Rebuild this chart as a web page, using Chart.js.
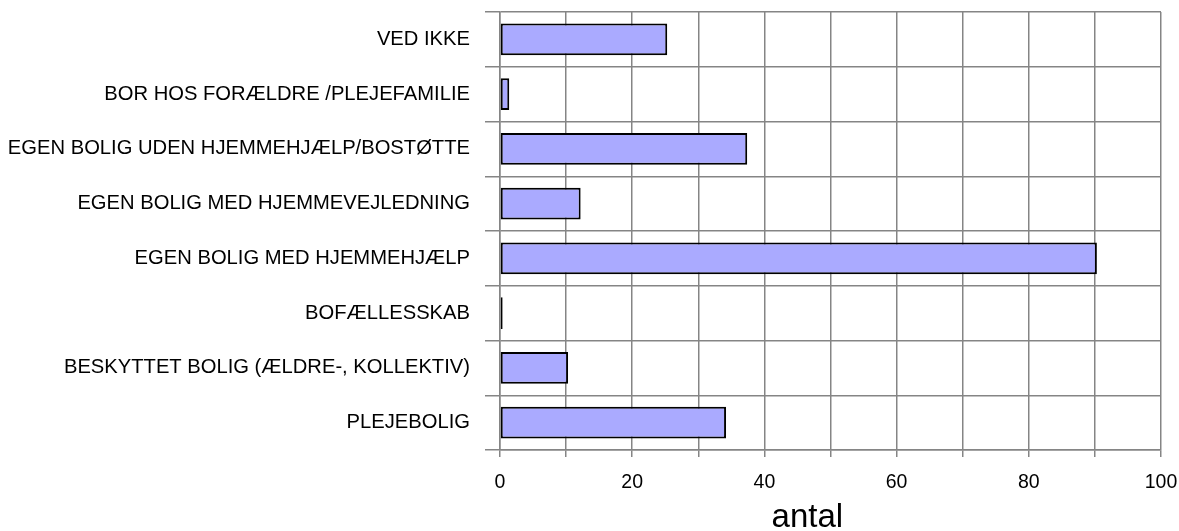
<!DOCTYPE html>
<html>
<head>
<meta charset="utf-8">
<script src="https://cdn.jsdelivr.net/npm/chart.js@4"></script>
<style>
html,body{margin:0;padding:0;background:#fff;}
#wrap{width:1179px;height:531px;}
</style>
</head>
<body>
<div id="wrap"><canvas id="c" width="1179" height="531"></canvas></div>
<script>
const categories = [
  'VED IKKE',
  'BOR HOS FORÆLDRE /PLEJEFAMILIE',
  'EGEN BOLIG UDEN HJEMMEHJÆLP/BOSTØTTE',
  'EGEN BOLIG MED HJEMMEVEJLEDNING',
  'EGEN BOLIG MED HJEMMEHJÆLP',
  'BOFÆLLESSKAB',
  'BESKYTTET BOLIG (ÆLDRE-, KOLLEKTIV)',
  'PLEJEBOLIG'
];
const antalValues = [25.3, 1.4, 37.4, 12.2, 90.3, 0.4, 10.3, 34.2];
const xTickLabels = ['0', '20', '40', '60', '80', '100'];
const axisTitle = 'antal';

const FONT = "'Liberation Sans', Arial, sans-serif";
const GRID = '#858585';

const titlePlugin = {
  id: 'axisTitleDraw',
  afterDraw(chart) {
    const ctx = chart.ctx;
    const a = chart.chartArea;
    ctx.save();
    ctx.font = "33px " + FONT;
    ctx.fillStyle = '#000';
    ctx.textAlign = 'center';
    ctx.textBaseline = 'alphabetic';
    ctx.fillText(axisTitle, a.left + (a.right - a.left) * 0.465, 527);
    ctx.restore();
  }
};

new Chart(document.getElementById('c'), {
  type: 'bar',
  data: {
    labels: categories,
    datasets: [{
      label: axisTitle,
      data: antalValues,
      backgroundColor: '#aaaaff',
      borderColor: '#000000',
      borderWidth: 2,
      borderSkipped: false,
      categoryPercentage: 1,
      barPercentage: 0.58
    }]
  },
  options: {
    indexAxis: 'y',
    responsive: false,
    animation: false,
    devicePixelRatio: 1,
    layout: { padding: { top: 12, right: 18, bottom: 0, left: 0 } },
    plugins: {
      legend: { display: false },
      tooltip: { enabled: false }
    },
    scales: {
      x: {
        type: 'linear',
        min: 0,
        max: 100,
        ticks: {
          stepSize: 10,
          padding: 14,
          color: '#000',
          font: { family: FONT, size: 19.5 },
          maxRotation: 0,
          autoSkip: false,
          callback: (v) => xTickLabels.includes(String(v)) ? String(v) : ''
        },
        grid: { color: GRID, lineWidth: 1.5, tickLength: 7, drawTicks: true },
        border: { display: true, color: GRID, width: 1.5 },
        afterFit: (s) => { s.height = 81; s.paddingLeft = 0; s.paddingRight = 0; }
      },
      y: {
        type: 'category',
        ticks: {
          padding: 15,
          color: '#000',
          font: { family: FONT, size: 20.2 },
          autoSkip: false
        },
        grid: { color: GRID, lineWidth: 1.5, tickLength: 15, offset: true },
        border: { display: true, color: GRID, width: 1.5 },
        afterFit: (s) => { s.width = 500; s.paddingTop = 0; s.paddingBottom = 0; }
      }
    }
  },
  plugins: [titlePlugin]
});
</script>
</body>
</html>
